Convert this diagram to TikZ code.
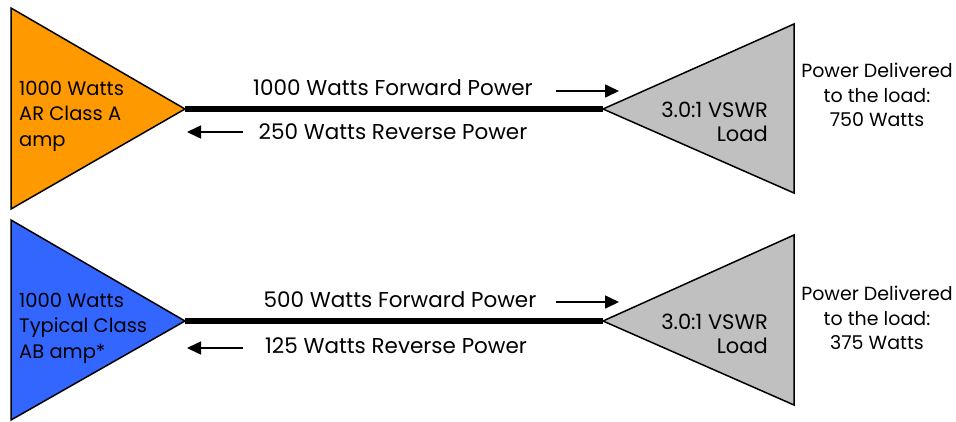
\documentclass[tikz,border=0pt]{standalone}
\usepackage{fontspec}
\setmainfont{Poppins}
\usetikzlibrary{positioning, arrows.meta}
\definecolor{ampOrange}{RGB}{255,153,0}
\definecolor{ampBlue}{RGB}{51,102,255}
\definecolor{loadGray}{RGB}{192,192,192}

\begin{document}
\begin{tikzpicture}[x=1pt, y=-1pt, font=\fontsize{19.5}{25.5}\selectfont,
	tri/.style={draw=black, line width=1.5pt, line join=miter},
	feed/.style={line width=5.5pt},
	flow/.style={-{Triangle[length=14pt, width=13pt]}, line width=1.6pt},
	powertext/.style={inner sep=0pt, text centered, font=\fontsize{21.5}{26}\selectfont},
	loadtext/.style={anchor=east, align=right, inner sep=0pt, font=\fontsize{21}{24}\selectfont}]
	\useasboundingbox (0,0) rectangle (956,421);

	% top row: AR class A amplifier
	\coordinate (ampA) at (185,109);
	\coordinate (loadA) at (603,109);
	\filldraw[tri, fill=ampOrange] (11,8) -- (ampA) -- (11,209) -- cycle;
	\filldraw[tri, fill=loadGray] (794,24) -- (loadA) -- (794,193) -- cycle;
	\draw[feed] (ampA) -- (loadA);
	\node[anchor=west, align=left, inner sep=0pt] (ampTextA) at (19,116) {1000 Watts\\AR Class A\\amp};
	\node[loadtext] (loadTextA) at (768,122) {3.0:1 VSWR\\Load};
	\node[align=center, inner sep=0pt, font=\fontsize{19}{24.5}\selectfont] (outA) at (877,95) {Power Delivered\\to the load:\\750 Watts};
	\node[powertext] (fwdA) at (393,88) {1000 Watts Forward Power};
	\node[powertext] (revA) at (393,132) {250 Watts Reverse Power};
	\coordinate (fwdAs) at (556,91);
	\coordinate (fwdAe) at (619,91);
	\coordinate (revAs) at (243,132);
	\coordinate (revAe) at (187,132);
	\draw[flow] (fwdAs) -- (fwdAe);
	\draw[flow] (revAs) -- (revAe);

	% bottom row: typical class AB amplifier
	\coordinate (ampB) at (185,321);
	\coordinate (loadB) at (603,321);
	\filldraw[tri, fill=ampBlue] (11,220) -- (ampB) -- (11,420) -- cycle;
	\filldraw[tri, fill=loadGray] (794,235) -- (loadB) -- (794,405) -- cycle;
	\draw[feed] (ampB) -- (loadB);
	\node[anchor=west, align=left, inner sep=0pt] (ampTextB) at (19,328) {1000 Watts\\Typical Class\\AB amp*};
	\node[loadtext] (loadTextB) at (768,334) {3.0:1 VSWR\\Load};
	\node[align=center, inner sep=0pt, font=\fontsize{19}{24.5}\selectfont] (outB) at (877,318) {Power Delivered\\to the load:\\375 Watts};
	\node[powertext] (fwdB) at (400,300) {500 Watts Forward Power};
	\node[powertext] (revB) at (396,346) {125 Watts Reverse Power};
	\coordinate (fwdBs) at (556,302);
	\coordinate (fwdBe) at (619,302);
	\coordinate (revBs) at (243,348);
	\coordinate (revBe) at (187,348);
	\draw[flow] (fwdBs) -- (fwdBe);
	\draw[flow] (revBs) -- (revBe);
\end{tikzpicture}
\end{document}
